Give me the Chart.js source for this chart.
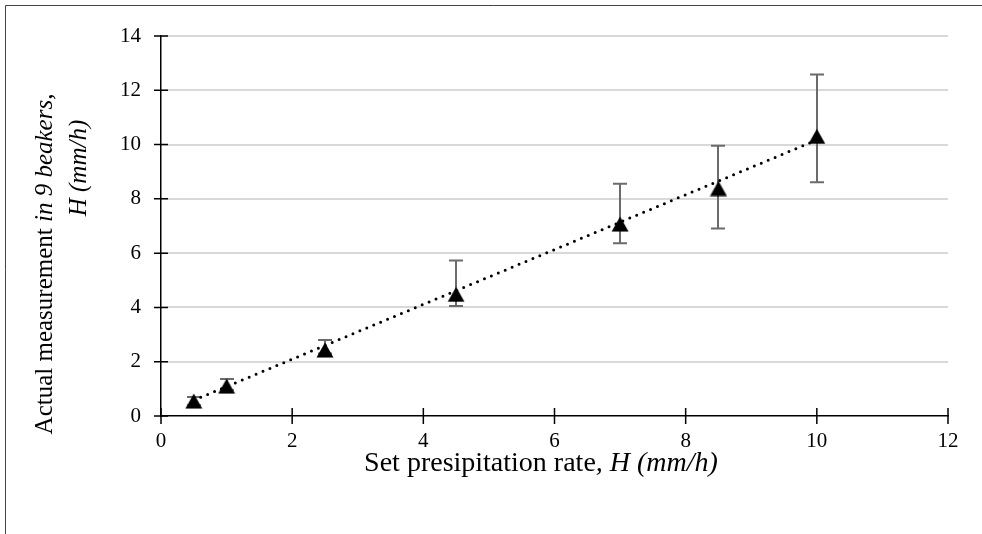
<!DOCTYPE html>
<html>
<head>
<meta charset="utf-8">
<script src="https://cdn.jsdelivr.net/npm/chart.js@4.4.0/dist/chart.umd.min.js"></script>
<style>
  html, body { margin: 0; padding: 0; background: #fff; }
  #chart { display: block; }
</style>
</head>
<body>
<canvas id="chart" width="982" height="534"></canvas>
<script>
// data
const setRate = [0.5, 1, 2.5, 4.5, 7, 8.5, 10];
const measured = [0.55, 1.1, 2.43, 4.48, 7.07, 8.38, 10.3];
const errLow = [0.4, 0.95, 2.3, 4.05, 6.36, 6.91, 8.61];
const errHigh = [0.7, 1.36, 2.8, 5.73, 8.56, 9.96, 12.58];
const trendX = [0.5, 10];
const trendY = [0.58, 10.17];
const xTicks = [0, 2, 4, 6, 8, 10, 12];
const yTicks = [0, 2, 4, 6, 8, 10, 12, 14];

const SERIF = "'Liberation Serif', 'Times New Roman', serif";

// black triangle marker, centred on its box like Excel's
function makeTriangle() {
  const c = document.createElement('canvas');
  c.width = 18; c.height = 16;
  const g = c.getContext('2d');
  g.fillStyle = '#000';
  g.beginPath();
  g.moveTo(9, 0.5);
  g.lineTo(17.5, 15.5);
  g.lineTo(0.5, 15.5);
  g.closePath();
  g.fill();
  return c;
}

function drawSegments(ctx, segs, cx, cy, angle) {
  ctx.save();
  ctx.translate(cx, cy);
  ctx.rotate(angle);
  ctx.textBaseline = 'middle';
  ctx.textAlign = 'left';
  ctx.fillStyle = '#000';
  let total = 0;
  segs.forEach(s => { ctx.font = s.font; total += ctx.measureText(s.text).width; });
  let x = -total / 2;
  segs.forEach(s => {
    ctx.font = s.font;
    ctx.fillText(s.text, x, 0);
    x += ctx.measureText(s.text).width;
  });
  ctx.restore();
}

const framePlugin = {
  id: 'frame',
  beforeDraw(chart) {
    const ctx = chart.ctx;
    ctx.save();
    ctx.fillStyle = '#fff';
    ctx.fillRect(0, 0, chart.width, chart.height);
    ctx.strokeStyle = '#444';
    ctx.lineWidth = 1;
    ctx.beginPath();
    ctx.moveTo(5.5, chart.height);
    ctx.lineTo(5.5, 5.5);
    ctx.lineTo(chart.width, 5.5);
    ctx.stroke();
    ctx.restore();
  }
};

const errorBarPlugin = {
  id: 'errorBars',
  beforeDatasetsDraw(chart) {
    const ctx = chart.ctx;
    const x = chart.scales.x, y = chart.scales.y;
    ctx.save();
    ctx.strokeStyle = '#6b6b6b';
    ctx.lineWidth = 2;
    setRate.forEach((v, i) => {
      const px = Math.round(x.getPixelForValue(v));
      const lo = y.getPixelForValue(errLow[i]);
      const hi = y.getPixelForValue(errHigh[i]);
      ctx.beginPath();
      ctx.moveTo(px, lo); ctx.lineTo(px, hi);
      ctx.moveTo(px - 7, lo); ctx.lineTo(px + 7, lo);
      ctx.moveTo(px - 7, hi); ctx.lineTo(px + 7, hi);
      ctx.stroke();
    });
    ctx.restore();
  }
};

const axisDecorPlugin = {
  id: 'axisDecor',
  afterDraw(chart) {
    const ctx = chart.ctx;
    const x = chart.scales.x, y = chart.scales.y;
    const a = chart.chartArea;
    ctx.save();
    ctx.strokeStyle = '#000';
    ctx.lineWidth = 1.5;
    ctx.beginPath();
    yTicks.forEach(v => {
      const py = y.getPixelForValue(v);
      ctx.moveTo(a.left - 7, py); ctx.lineTo(a.left + 7, py);
    });
    xTicks.forEach(v => {
      const px = x.getPixelForValue(v);
      ctx.moveTo(px, a.bottom - 8); ctx.lineTo(px, a.bottom + 8);
    });
    ctx.stroke();
    ctx.restore();

    drawSegments(ctx, [
      { text: 'Set presipitation rate', font: '28px ' + SERIF },
      { text: ', H (mm/h)', font: 'italic 28px ' + SERIF }
    ], 541, 464, 0);
    drawSegments(ctx, [
      { text: 'Actual measurement ', font: '25px ' + SERIF },
      { text: 'in 9 beakers,', font: 'italic 25px ' + SERIF }
    ], 45, 264, -Math.PI / 2);
    drawSegments(ctx, [
      { text: 'H (mm/h)', font: 'italic 25px ' + SERIF }
    ], 79, 168, -Math.PI / 2);
  }
};

const tickFont = { family: SERIF, size: 21 };

new Chart(document.getElementById('chart'), {
  type: 'scatter',
  data: {
    datasets: [
      {
        label: 'Measured',
        data: setRate.map((v, i) => ({ x: v, y: measured[i] })),
        pointStyle: makeTriangle(),
        pointRadius: 9,
        pointHoverRadius: 9,
        order: 1
      },
      {
        label: 'Linear trend',
        type: 'line',
        data: trendX.map((v, i) => ({ x: v, y: trendY[i] })),
        borderColor: '#000',
        borderWidth: 3,
        borderDash: [0, 7.5],
        borderCapStyle: 'round',
        pointRadius: 0,
        fill: false,
        order: 2
      }
    ]
  },
  options: {
    responsive: false,
    animation: false,
    layout: { padding: { top: 36, right: 34, left: 0, bottom: 0 } },
    plugins: {
      legend: { display: false },
      tooltip: { enabled: false }
    },
    scales: {
      x: {
        type: 'linear',
        min: 0,
        max: 12,
        afterBuildTicks: s => { s.ticks = xTicks.map(v => ({ value: v })); },
        afterFit: s => { s.height = 118; },
        ticks: { color: '#000', font: tickFont, padding: 13 },
        grid: { display: false, drawTicks: false },
        border: { color: '#000', width: 1.5 }
      },
      y: {
        type: 'linear',
        min: 0,
        max: 14,
        afterBuildTicks: s => { s.ticks = yTicks.map(v => ({ value: v })); },
        afterFit: s => { s.width = 161; },
        ticks: { color: '#000', font: tickFont, padding: 20 },
        grid: {
          drawTicks: false,
          lineWidth: 2,
          color: c => (c.tick && c.tick.value === 0 ? 'rgba(0,0,0,0)' : '#d9d9d9')
        },
        border: { color: '#000', width: 1.5 }
      }
    }
  },
  plugins: [framePlugin, errorBarPlugin, axisDecorPlugin]
});
</script>
</body>
</html>
